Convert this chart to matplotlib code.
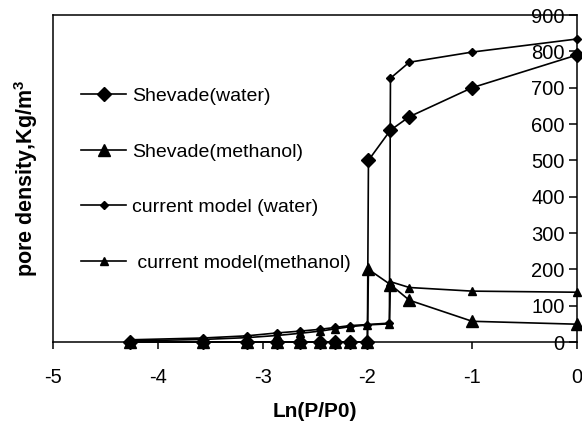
import numpy as np
import matplotlib.pyplot as plt

plt.rcParams['font.family'] = ['Liberation Sans', 'DejaVu Sans']
plt.rcParams['mathtext.fontset'] = 'custom'
plt.rcParams['mathtext.rm'] = 'Liberation Sans'
plt.rcParams['mathtext.bf'] = 'Liberation Sans:bold'

# ln(P/P0) values of the measured / computed points
x_low = [-4.27, -3.57, -3.15, -2.86, -2.64, -2.45, -2.31, -2.17, -2.0]
x_high = [-1.78, -1.6, -1.0, 0.0]

# Shevade data: empty pores up to ln(P/P0) = -2, then filling
shev_water_x = x_low + [-1.99] + x_high
shev_water_y = [0, 0, 0, 0, 0, 0, 0, 0, 0, 500, 583, 620, 700, 790]
shev_meth_x = x_low + [-1.99] + x_high
shev_meth_y = [0, 0, 0, 0, 0, 0, 0, 0, 0, 200, 158, 115, 57, 49]

# current model: gradual uptake, jump at ln(P/P0) = -1.78
cur_water_x = x_low + [-1.79] + x_high
cur_water_y = [6, 11, 17, 25, 30, 35, 40, 45, 48, 52, 726, 770, 798, 834]
cur_meth_x = x_low + [-1.79] + x_high
cur_meth_y = [3, 7, 12, 18, 24, 30, 36, 42, 47, 50, 166, 150, 140, 137]

labels = ['Shevade(water)', 'Shevade(methanol)',
          'current model (water)', ' current model(methanol)']

fig = plt.figure(figsize=(5.82, 4.23), dpi=100)
ax = fig.add_axes([53 / 582, 1 - 342 / 423, 524 / 582, 327 / 423])

lw = 1.2
ax.plot(shev_water_x, shev_water_y, 'k-', marker='D', ms=7.5, lw=lw,
        clip_on=False, label=labels[0])
ax.plot(shev_meth_x, shev_meth_y, 'k-', marker='^', ms=9, lw=lw,
        clip_on=False, label=labels[1])
ax.plot(cur_water_x, cur_water_y, 'k-', marker='D', ms=4.5, lw=lw,
        clip_on=False, label=labels[2])
ax.plot(cur_meth_x, cur_meth_y, 'k-', marker='^', ms=6, lw=lw,
        clip_on=False, label=labels[3])

ax.set_xlim(-5, 0)
ax.set_ylim(0, 900)
ax.set_xticks(np.arange(-5, 1, 1))
ax.set_yticks(np.arange(0, 1000, 100))
ax.set_xticklabels(['-5', '-4', '-3', '-2', '-1', '0'])

# vertical axis sits at ln(P/P0) = 0, the box closes at -5
ax.spines['left'].set_position(('data', 0))
ax.spines['right'].set_position(('data', -5))
ax.spines['bottom'].set_position(('data', 0))
for s in ax.spines.values():
    s.set_linewidth(1.1)
ax.tick_params(axis='y', direction='out', length=6, width=1.1, pad=3,
               labelsize=14.5, right=False)
ax.tick_params(axis='x', direction='out', length=5, width=1.1, pad=14,
               labelsize=14.5, top=False)

ax.set_xlabel('Ln(P/P0)', fontsize=15, fontweight='bold')
ax.xaxis.set_label_coords(0.5, -0.185)
ax.set_ylabel('pore density,Kg/m$^\\mathbf{3}$', fontsize=15.5,
              fontweight='bold')
ax.yaxis.set_label_coords(-0.024, 0.5)

ax.legend(loc='upper left', bbox_to_anchor=(0.054, 0.778), frameon=False,
          fontsize=14, handlelength=2.3, handletextpad=0.3,
          labelspacing=1.95, borderaxespad=0, borderpad=0)

fig.savefig('out.png', dpi=100)
